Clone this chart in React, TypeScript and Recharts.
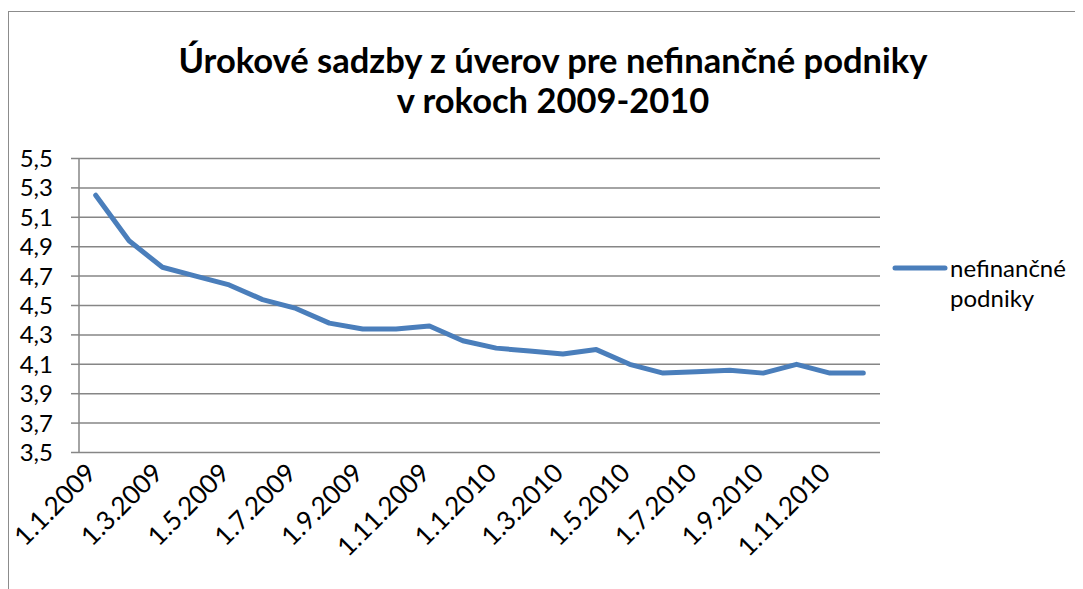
import React from "react";
import { LineChart, Line, XAxis, YAxis, CartesianGrid } from "recharts";

const categories = [
  "1.1.2009", "1.2.2009", "1.3.2009", "1.4.2009", "1.5.2009", "1.6.2009",
  "1.7.2009", "1.8.2009", "1.9.2009", "1.10.2009", "1.11.2009", "1.12.2009",
  "1.1.2010", "1.2.2010", "1.3.2010", "1.4.2010", "1.5.2010", "1.6.2010",
  "1.7.2010", "1.8.2010", "1.9.2010", "1.10.2010", "1.11.2010", "1.12.2010",
];
const values = [
  5.25, 4.94, 4.76, 4.70, 4.64, 4.54, 4.48, 4.38, 4.34, 4.34, 4.36, 4.26,
  4.21, 4.19, 4.17, 4.20, 4.10, 4.04, 4.05, 4.06, 4.04, 4.10, 4.04, 4.04,
];
const yTicks = [3.5, 3.7, 3.9, 4.1, 4.3, 4.5, 4.7, 4.9, 5.1, 5.3, 5.5];
const seriesName = "nefinančné podniky";
const titleLines = ["Úrokové sadzby z úverov pre nefinančné podniky", "v rokoch 2009-2010"];

const data = categories.map((c, i) => ({ x: i + 0.5, label: c, value: values[i] }));
const boundaryTicks = categories.map((_, i) => i).filter((i) => i % 2 === 0).concat([categories.length]);
const labelTicks = categories.map((_, i) => i + 0.5).filter((_, i) => i % 2 === 0);

const FONT = "Lato, 'DejaVu Sans', sans-serif";
const GRID = "#868686";
const BLUE = "#4A7EBB";

const fmtY = (v: number) => v.toFixed(1).replace(".", ",");

const XLabelTick = (props: any) => {
  const { x, y, payload } = props;
  const idx = Math.round(payload.value - 0.5);
  const text = categories[idx] ?? "";
  const ax = x + 2;
  const ay = y + 22;
  return (
    <text
      x={ax}
      y={ay}
      transform={`rotate(-45, ${ax}, ${ay})`}
      textAnchor="end"
      fontFamily={FONT}
      fontSize={26}
      fill="#000"
    >
      {text}
    </text>
  );
};

export default function App() {
  return (
    <div style={{ position: "relative", width: 1075, height: 581, overflow: "hidden", fontFamily: FONT, background: "#fff" }}>
      <div style={{ position: "absolute", left: 0, top: 3, width: 1300, height: 800, border: "1px solid #8c8c8c", boxSizing: "border-box" }} />
      <div style={{ position: "absolute", left: 545 - 500, top: 32, width: 1000, textAlign: "center", fontWeight: 700, fontSize: 34.5, lineHeight: "40px", color: "#000" }}>
        {titleLines.map((t) => (
          <div key={t}>{t}</div>
        ))}
      </div>
      <LineChart width={1075} height={581} data={data} margin={{ top: 150.5, right: 203, left: 0, bottom: 0 }}>
        <CartesianGrid horizontal vertical={false} stroke={GRID} strokeWidth={1.5} yAxisId="y" xAxisId="ticks" />
        <XAxis
          xAxisId="ticks"
          dataKey="x"
          type="number"
          domain={[0, categories.length]}
          ticks={boundaryTicks}
          interval={0}
          tick={false}
          tickSize={8}
          height={0}
          axisLine={{ stroke: GRID, strokeWidth: 1.5 }}
          tickLine={{ stroke: GRID, strokeWidth: 1.5 }}
        />
        <XAxis
          xAxisId="labels"
          dataKey="x"
          type="number"
          domain={[0, categories.length]}
          ticks={labelTicks}
          interval={0}
          tickSize={0}
          tickMargin={0}
          height={136.5}
          axisLine={false}
          tickLine={false}
          tick={<XLabelTick />}
        />
        <YAxis
          yAxisId="y"
          type="number"
          domain={[3.5, 5.5]}
          ticks={yTicks}
          interval={0}
          width={71}
          tickSize={8}
          tickMargin={18}
          tickFormatter={fmtY}
          tick={{ fontFamily: FONT, fontSize: 24, fill: "#000" }}
          axisLine={{ stroke: GRID, strokeWidth: 1.5 }}
          tickLine={{ stroke: GRID, strokeWidth: 1.5 }}
        />
        <Line
          xAxisId="ticks"
          yAxisId="y"
          type="linear"
          dataKey="value"
          name={seriesName}
          stroke={BLUE}
          strokeWidth={5}
          strokeLinecap="round"
          strokeLinejoin="round"
          dot={false}
          activeDot={false}
          isAnimationActive={false}
        />
      </LineChart>
      <div style={{ position: "absolute", left: 884, top: 245, width: 190, fontSize: 24, lineHeight: "30px", color: "#000" }}>
        <svg width={56} height={10} style={{ position: "absolute", left: 0, top: 10 }}>
          <line x1={3} y1={5} x2={53} y2={5} stroke={BLUE} strokeWidth={5} strokeLinecap="round" />
        </svg>
        <div style={{ marginLeft: 58, width: 130 }}>{seriesName}</div>
      </div>
    </div>
  );
}
